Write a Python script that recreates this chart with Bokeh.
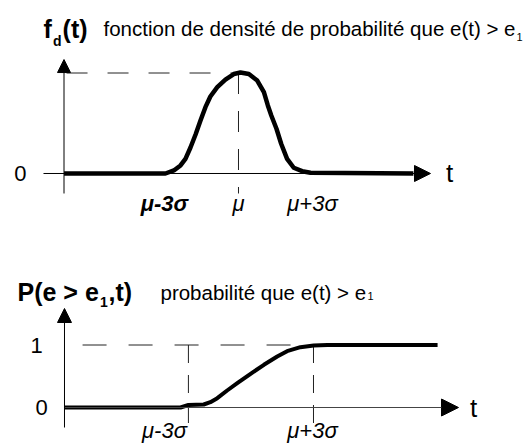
from bokeh.plotting import figure
from bokeh.models import Range1d, Arrow, NormalHead
from bokeh.core.properties import value
from bokeh.embed import file_html
from bokeh.resources import INLINE

# ---------------- data (t in sigma units, mu = 0) ----------------
# top panel: probability density f_d(t)
pdf_t = [-7.07, -2.96, -2.62, -2.35, -2.15, -1.95, -1.74, -1.54, -1.34, -1.14,
         -0.86, -0.53, -0.19, 0.08, 0.42, 0.76, 1.03, 1.19, 1.33, 1.54, 1.73,
         1.97, 2.24, 2.58, 2.92, 7.09]
pdf_f = [0.0, 0.0, 0.03, 0.08, 0.146, 0.256, 0.388, 0.527, 0.66, 0.766,
         0.859, 0.935, 0.99, 1.005, 0.99, 0.925, 0.809, 0.677, 0.577, 0.445, 0.296,
         0.146, 0.057, 0.023, 0.007, 0.0]

# bottom panel: cumulative probability P(e > e1, t)
cdf_t = [-7.05, -2.35, -2.03, -1.41, -1.14, -0.86, -0.46, -0.05, 0.49, 1.03,
         1.57, 1.97, 2.51, 3.05, 3.6, 8.07]
cdf_p = [0.0, 0.0, 0.04, 0.048, 0.085, 0.149, 0.272, 0.389, 0.539, 0.683,
         0.816, 0.901, 0.965, 0.992, 1.0, 1.0]

top_tick_t = [-3, 0, 3]
top_tick_labels = ["μ-3σ", "μ", "μ+3σ"]
bottom_tick_t = [-3, 3]
bottom_tick_labels = ["μ-3σ", "μ+3σ"]
bottom_guide_t = [-2.03, 3.04]

FONT = value("Liberation Sans")

p = figure(width=525, height=443, output_backend="svg", toolbar_location=None,
           x_range=Range1d(-9.647, 11.634), y_range=Range1d(-2.6866, 1.7214),
           x_axis_type=None, y_axis_type=None, min_border=0)
p.extra_y_ranges = {"P": Range1d(-0.576, 6.512)}
p.grid.visible = False
p.outline_line_color = None
p.background_fill_color = "white"
p.border_fill_color = "white"

# ---------------- top panel ----------------
p.line([-6.97, 0], [1, 1], line_color="#222222", line_width=1, line_dash="21 20")
p.line([0, 0], [1, -0.199], line_color="#222222", line_width=1, line_dash="21 17")
p.add_layout(Arrow(x_start=-7.904, y_start=0, x_end=7.783, y_end=0, line_color="black",
                   line_width=1, end=NormalHead(size=16, fill_color="black", line_color="black")))
p.add_layout(Arrow(x_start=-7.073, y_start=-0.199, x_end=-7.073, y_end=1.134, line_color="black",
                   line_width=1, end=NormalHead(size=13, fill_color="black", line_color="black")))
p.line(pdf_t, pdf_f, line_color="black", line_width=4.5, line_join="round", line_cap="butt")

p.text(x=[-7.904], y=[1.438], text=["f"], text_font=FONT, text_font_size="25px",
       text_font_style="bold", text_baseline="alphabetic", text_align="left", text_color="black")
p.text(x=[-7.52], y=[1.323], text=["d"], text_font=FONT, text_font_size="14px",
       text_font_style="bold", text_baseline="alphabetic", text_align="left", text_color="black")
p.text(x=[-7.13], y=[1.438], text=["(t)"], text_font=FONT, text_font_size="25px",
       text_font_style="bold", text_baseline="alphabetic", text_align="left", text_color="black")
p.text(x=[-5.472], y=[1.438], text=["fonction de densité de probabilité que e(t) > e"],
       text_font=FONT, text_font_size="20.5px", text_baseline="alphabetic", text_align="left",
       text_color="black")
p.text(x=[11.27], y=[1.36], text=["1"], text_font=FONT, text_font_size="11px",
       text_baseline="alphabetic", text_align="left", text_color="black")
p.text(x=[-8.837], y=[0], text=["0"], text_font=FONT, text_font_size="22px",
       text_baseline="middle", text_align="center", text_color="black")
p.text(x=[8.553], y=[0], text=["t"], text_font=FONT, text_font_size="26px",
       text_baseline="middle", text_align="center", text_color="black")
p.text(x=top_tick_t[:1], y=[-0.30], text=top_tick_labels[:1], text_font=FONT,
       text_font_size="22px", text_font_style="bold italic", text_baseline="alphabetic",
       text_align="center", text_color="black")
p.text(x=top_tick_t[1:], y=[-0.30] * 2, text=top_tick_labels[1:], text_font=FONT,
       text_font_size="22px", text_font_style="italic", text_baseline="alphabetic",
       text_align="center", text_color="black")

# ---------------- bottom panel ----------------
p.line([-6.32, 3.04], [1, 1], line_color="#222222", line_width=1, line_dash="24 22",
       y_range_name="P")
for gt in bottom_guide_t:
    p.line([gt, gt], [1, -0.32], line_color="#222222", line_width=1, line_dash="18 12",
           y_range_name="P")
p.add_layout(Arrow(x_start=-7.053, y_start=0, x_end=8.918, y_end=0, line_color="#444444",
                   line_width=1, y_range_name="P",
                   end=NormalHead(size=17, fill_color="black", line_color="black")))
p.add_layout(Arrow(x_start=-7.053, y_start=-0.32, x_end=-7.053, y_end=1.584, line_color="black",
                   line_width=1, y_range_name="P",
                   end=NormalHead(size=14, fill_color="black", line_color="black")))
p.line(cdf_t, cdf_p, line_color="black", line_width=4, line_join="round", y_range_name="P")

p.text(x=[-8.958], y=[1.845], text=["P(e > e"], text_font=FONT, text_font_size="25px",
       text_font_style="bold", text_baseline="alphabetic", text_align="left",
       text_color="black", y_range_name="P")
p.text(x=[-5.614], y=[1.696], text=["1"], text_font=FONT, text_font_size="14px",
       text_font_style="bold", text_baseline="alphabetic", text_align="left",
       text_color="black", y_range_name="P")
p.text(x=[-5.27], y=[1.845], text=[",t)"], text_font=FONT, text_font_size="25px",
       text_font_style="bold", text_baseline="alphabetic", text_align="left",
       text_color="black", y_range_name="P")
p.text(x=[-3.162], y=[1.845], text=["probabilité que e(t) > e"], text_font=FONT,
       text_font_size="20.5px", text_baseline="alphabetic", text_align="left",
       text_color="black", y_range_name="P")
p.text(x=[5.23], y=[1.78], text=["1"], text_font=FONT, text_font_size="11px",
       text_baseline="alphabetic", text_align="left", text_color="black", y_range_name="P")
p.text(x=[-8.188], y=[1], text=["1"], text_font=FONT, text_font_size="22px",
       text_baseline="middle", text_align="center", text_color="black", y_range_name="P")
p.text(x=[-7.985], y=[0], text=["0"], text_font=FONT, text_font_size="22px",
       text_baseline="middle", text_align="center", text_color="black", y_range_name="P")
p.text(x=[9.526], y=[0], text=["t"], text_font=FONT, text_font_size="26px",
       text_baseline="middle", text_align="center", text_color="black", y_range_name="P")
p.text(x=bottom_tick_t, y=[-0.37] * 2, text=bottom_tick_labels, text_font=FONT,
       text_font_size="22px", text_font_style="italic", text_baseline="alphabetic",
       text_align="center", text_color="black", y_range_name="P")

open("out.html", "w").write(file_html(p, INLINE))
